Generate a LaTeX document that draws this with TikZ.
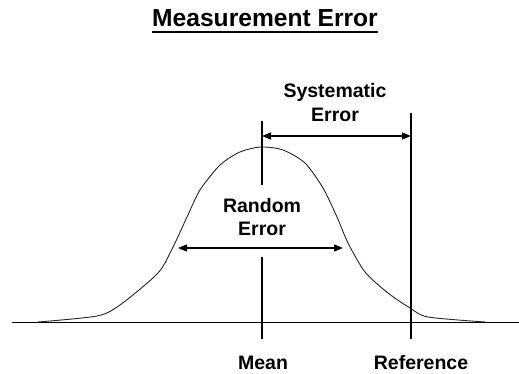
\documentclass[tikz,border=0pt]{standalone}
\usepackage{fontspec}
\setmainfont{Liberation Sans}
\usetikzlibrary{arrows.meta}
\begin{document}
\begin{tikzpicture}[x=1pt,y=-1pt,
  lbl/.style={font=\fontsize{19.5}{23.5}\selectfont\bfseries, align=center, inner sep=0pt},
  marker/.style={line width=1.3pt, black},
  dimarrow/.style={line width=1.3pt, {Triangle[length=9pt,width=7pt]}-{Triangle[length=9pt,width=7pt]}},
  curve/.style={line width=0.9pt, black!85}]
\useasboundingbox (0,0) rectangle (519,374);
% title
\node[font=\fontsize{24.6}{28}\selectfont\bfseries, anchor=base, inner sep=0pt] (title) at (265,27) {Measurement Error};
\draw[line width=2pt] (152,32) -- (378,32);
% axis
\coordinate (axL) at (12,322);
\coordinate (axR) at (519,322);
\draw[line width=1pt] (axL) -- (axR);
% distribution curve
\draw[curve] plot[smooth, tension=0.45] coordinates {(38,322) (97,316) (120,305) (158,273) (173,247) (187,217) (200,190) (220,165) (240,152) (261,147) (283,150) (305,163) (323,188) (337,217) (348,243) (365,272) (388,293) (410,308) (428,317) (485,322)};
% mean line
\coordinate (meanTop) at (262,121);
\coordinate (gapTop) at (262,185);
\coordinate (gapBot) at (262,257);
\coordinate (meanBot) at (262,339);
\draw[marker] (meanTop) -- (gapTop);
\draw[marker] (gapBot) -- (meanBot);
% reference line
\coordinate (refTop) at (411,113);
\coordinate (refBot) at (411,339);
\draw[marker] (refTop) -- (refBot);
% systematic error
\coordinate (sysL) at (262,136);
\coordinate (sysR) at (411,136);
\draw[dimarrow] (sysL) -- (sysR);
\node[lbl, anchor=base] (sys1) at (335,98) {Systematic};
\node[lbl, anchor=base] (sys2) at (335,122) {Error};
% random error
\coordinate (rndL) at (178,248);
\coordinate (rndR) at (343,248);
\draw[dimarrow] (rndL) -- (rndR);
\node[lbl, anchor=base] (rnd1) at (262,212) {Random};
\node[lbl, anchor=base] (rnd2) at (262,235) {Error};
% bottom labels
\node[lbl, anchor=base] (mean) at (263,369) {Mean};
\node[lbl, anchor=base] (ref) at (421,369) {Reference};
\end{tikzpicture}
\end{document}
